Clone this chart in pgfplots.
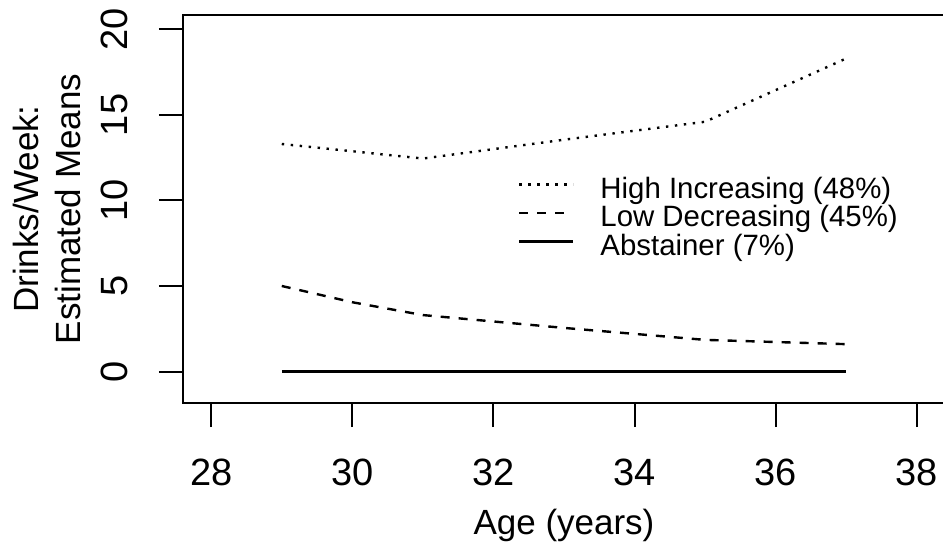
\documentclass[border=0pt]{standalone}
\usepackage{fontspec}
\setmainfont{Liberation Sans}
\usepackage{pgfplots}
\pgfplotsset{compat=1.18}
\usetikzlibrary{calc}
\begin{document}
\begin{tikzpicture}
\begin{axis}[name=ax, scale only axis, width=381pt, height=194pt,
 xmin=27.6, xmax=38.4, ymin=-1.84, ymax=20.84,
 xtick={28,30,32,34,36,38}, ytick={0,5,10,15,20},
 tick pos=left, tick align=outside, major tick length=12pt,
 axis line style={line width=1pt},
 tick style={line width=1pt, black},
 /pgf/number format/assume math mode=true,
 ticklabel style={font=\fontsize{19}{22}\selectfont, inner sep=0pt},
 yticklabel style={rotate=90, anchor=south},
 xticklabel shift=16pt, yticklabel shift=15.5pt,
 xlabel={Age (years)},
 xlabel style={at={(axis description cs:0.5,0)}, anchor=base, yshift=-65.5pt, inner sep=0pt, font=\fontsize{17.5}{21}\selectfont},
 ylabel={Drinks/Week:\\Estimated Means},
 ylabel style={at={(axis description cs:0,0.5)}, anchor=south, yshift=51pt, inner sep=0pt, align=center, font=\fontsize{17.5}{21}\selectfont},
 legend style={draw=none, fill=none, at={(axis cs:32.34,11.38)}, anchor=north west, inner sep=0pt, row sep=0pt, column sep=13pt,
   nodes={inner sep=0pt, text height=10.5pt, text depth=3.75pt, font=\fontsize{14.7}{16}\selectfont}},
 legend cell align=left,
 legend image code/.code={\draw[#1] (0pt,3.5pt) -- (27pt,3.5pt);},
]
\addplot[black, line width=1.2pt, dash pattern=on 1.2pt off 3.3pt] coordinates {(29,13.3) (31,12.45) (33,13.55) (35,14.6) (37,18.3)};
\addlegendentry{High Increasing (48\%)}
\addplot[black, line width=1.2pt, dash pattern=on 4.5pt off 4.5pt] coordinates {(29,5.0) (30,4.05) (31,3.3) (33,2.55) (35,1.85) (37,1.6)};
\addlegendentry{Low Decreasing (45\%)}
\addplot[black, line width=1.3pt] coordinates {(29,0) (37,0)};
\addlegendentry{Abstainer (7\%)}
\end{axis}
\pgfresetboundingbox
\useasboundingbox ($(ax.south west)+(-91.5pt,-72.5pt)$) rectangle ($(ax.north east)+(-1pt,7.5pt)$);
\end{tikzpicture}
\end{document}
